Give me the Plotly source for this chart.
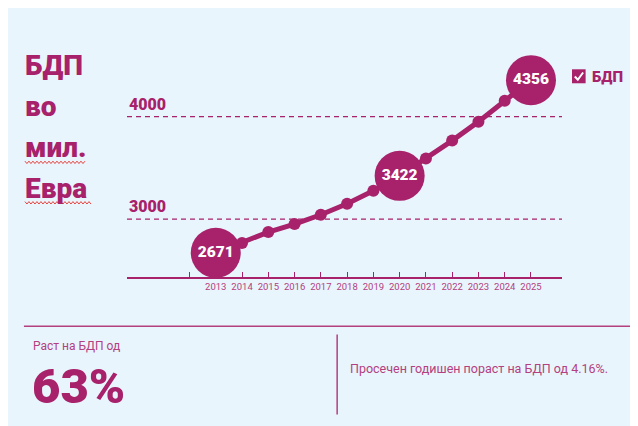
import plotly.graph_objects as go

# ---------------- data ----------------
years = list(range(2013, 2026))
gdp = [2671, 2766, 2873, 2951, 3042, 3149, 3276, 3422, 3591, 3766, 3951, 4156, 4356]
highlight_years = [2013, 2020, 2025]
grid_values = [3000, 4000]
tick_years = [2012] + years
tick_text = [""] + [str(y) for y in years]
series_name = "БДП"
title_lines = ["БДП", "во", "мил.", "Евра"]
growth_label = "Раст на БДП од"
growth_value = "63%"
avg_text = "Просечен годишен пораст на БДП од 4.16%."

# ---------------- style ----------------
OFF = 8  # page body margin
W, H = 630, 418
# plot area in screen pixels
SL, SR, ST, SB = 127, 561.7, 60, 277.3
L, R, T, B = SL - OFF, SR - OFF, ST - OFF, SB - OFF
C = "#a8216b"
C2 = "#b4407f"
BG = "#e8f5fc"
HEAVY = "Roboto, Noto Sans, sans-serif"
REG = "Roboto, Noto Sans, sans-serif"


def px(x):
    """screen x -> paper"""
    return (x - OFF - L) / (R - L)


def py(y):
    """screen y -> paper"""
    return (B - (y - OFF)) / (B - T)


hx = list(highlight_years)
hy = [gdp[years.index(y)] for y in highlight_years]

fig = go.Figure()
fig.add_trace(go.Scatter(
    x=years, y=gdp, mode="lines+markers", name=series_name,
    line=dict(color=C, width=5), marker=dict(color=C, size=12),
    cliponaxis=False, showlegend=False, hoverinfo="x+y"))
fig.add_trace(go.Scatter(
    x=hx, y=hy, mode="markers+text", text=[str(v) for v in hy],
    textposition="middle center",
    textfont=dict(color="white", size=15.5, family=HEAVY, weight=900),
    marker=dict(color=C, size=50), cliponaxis=False, showlegend=False,
    hoverinfo="skip"))

shapes = []
# dashed reference lines
for v in grid_values:
    shapes.append(dict(type="line", xref="paper", yref="y", x0=0, x1=1, y0=v, y1=v,
                       layer="below", line=dict(color=C, width=1.3, dash="5px,4px")))
# bottom separators
shapes.append(dict(type="line", xref="paper", yref="paper",
                   x0=px(24), x1=px(632), y0=py(326.7), y1=py(326.7),
                   line=dict(color=C2, width=1.5)))
shapes.append(dict(type="line", xref="paper", yref="paper",
                   x0=px(337), x1=px(337), y0=py(335), y1=py(415),
                   line=dict(color=C2, width=1.5)))
# legend box
shapes.append(dict(type="rect", xref="paper", yref="paper",
                   x0=px(571.7), x1=px(585.3), y0=py(69.3), y1=py(83.3),
                   fillcolor=C, line=dict(width=0)))
# legend check mark
shapes.append(dict(type="path", xref="paper", yref="paper",
                   path=(f"M {px(574.5):.5f},{py(76.5):.5f} L {px(577.5):.5f},{py(79.8):.5f} "
                         f"L {px(582.8):.5f},{py(72.5):.5f}"),
                   line=dict(color="white", width=2)))


def squiggle(x0, x1, y):
    pts = []
    x = x0
    i = 0
    while x <= x1:
        yy = y + (1.2 if i % 2 else -1.2)
        pts.append((x, yy))
        x += 2
        i += 1
    path = "M " + " L ".join(f"{px(a):.5f},{py(b):.5f}" for a, b in pts)
    return dict(type="path", xref="paper", yref="paper", path=path,
                line=dict(color="#e8403a", width=1))


shapes.append(squiggle(25, 86, 162.5))
shapes.append(squiggle(25, 91, 203))

annotations = []
# title lines
fs_title = 28
for i, line in enumerate(title_lines):
    base = 75 + 41 * i
    annotations.append(dict(
        text=line, xref="paper", yref="paper", x=px(23), y=py(base - 0.33 * fs_title),
        xanchor="left", yanchor="middle", showarrow=False,
        font=dict(family=HEAVY, size=fs_title, color=C, weight=900)))
# y grid labels
for v in grid_values:
    annotations.append(dict(
        text=str(v), xref="paper", yref="y", x=0, y=v, xanchor="left",
        yanchor="bottom", yshift=1, showarrow=False,
        font=dict(family=HEAVY, size=16, color=C, weight=900)))
# legend text
annotations.append(dict(text=series_name, xref="paper", yref="paper", x=px(590), y=py(77),
                        xanchor="left", yanchor="middle", showarrow=False,
                        font=dict(family=HEAVY, size=15, color=C, weight=900)))
# bottom texts
annotations.append(dict(text=growth_label, xref="paper", yref="paper", x=px(31), y=py(346),
                        xanchor="left", yanchor="middle", showarrow=False,
                        font=dict(family=REG, size=12, color=C2)))
annotations.append(dict(text=growth_value, xref="paper", yref="paper", x=px(30), y=py(403 - 0.33 * 49),
                        xanchor="left", yanchor="middle", showarrow=False,
                        font=dict(family=HEAVY, size=49, color=C, weight=900)))
annotations.append(dict(text=avg_text, xref="paper", yref="paper", x=px(348), y=py(369),
                        xanchor="left", yanchor="middle", showarrow=False,
                        font=dict(family=REG, size=12.5, color=C2)))

x0_range = 2013 - (215.7 - SL) / 26.25
x1_range = 2025 + (SR - 530.7) / 26.25
y_per_px = 1000 / 102.6
y0_range = 3000 - (SB - 219.3) * y_per_px
y1_range = 3000 + (219.3 - ST) * y_per_px

fig.update_layout(
    width=W, height=H, autosize=False,
    margin=dict(l=L, r=W - R, t=T, b=H - B, pad=0),
    paper_bgcolor=BG, plot_bgcolor="rgba(0,0,0,0)",
    shapes=shapes, annotations=annotations, showlegend=False,
    xaxis=dict(range=[x0_range, x1_range], tickvals=tick_years, ticktext=tick_text,
               showgrid=False, zeroline=False, showline=True, linecolor=C, linewidth=1.5,
               ticks="inside", ticklen=5, tickwidth=1, tickcolor=C,
               tickfont=dict(family=REG, size=9.5, color=C2), fixedrange=True),
    yaxis=dict(range=[y0_range, y1_range], showticklabels=False, showgrid=False,
               zeroline=False, showline=False, fixedrange=True),
)

fig.write_html("out.html")
